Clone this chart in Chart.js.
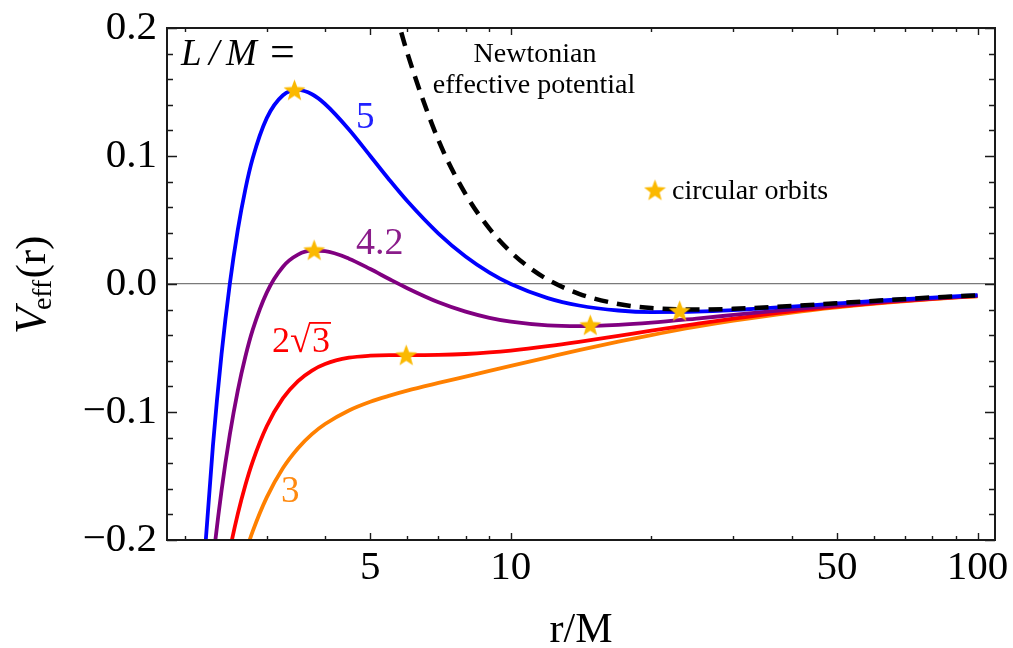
<!DOCTYPE html>
<html>
<head>
<meta charset="utf-8">
<script src="https://cdn.jsdelivr.net/npm/chart.js@4.4.0/dist/chart.umd.min.js"></script>
<style>
  html, body { margin: 0; padding: 0; background: #fff; }
  #wrap { width: 1013px; height: 648px; position: relative; }
</style>
</head>
<body>
<div id="wrap"><canvas id="myChart"></canvas></div>
<script>
// radius grid (r/M) shared by the four relativistic curves
const rValues = [2.0, 2.1, 2.2, 2.3, 2.4, 2.5, 2.6, 2.7, 2.8, 3.0, 3.25, 3.5, 3.75, 4, 4.5, 5, 5.5,
                 6, 7, 8, 9, 10, 12, 14, 17, 20, 25, 30, 40, 50, 65, 80, 100];

// V_eff, one array per L/M
const vL5 = [-0.5, -0.3412, -0.2198, -0.1266, -0.0550, 0.0, 0.0421, 0.0742, 0.0984, 0.1296, 0.1475, 0.1516, 0.1482,
             0.1406, 0.1207, 0.1000, 0.0811, 0.0648, 0.0394, 0.0215, 0.0089, 0.0, -0.0110, -0.0168, -0.0207,
             -0.0219, -0.0216, -0.0204, -0.0176, -0.0152, -0.0125, -0.0106, -0.0088];
const vL42 = [-0.5, -0.3810, -0.2889, -0.2173, -0.1615, -0.1178, -0.0835, -0.0567, -0.0357, -0.0067, 0.0135, 0.0229,
              0.0260, 0.0256, 0.0198, 0.0117, 0.0037, -0.0033, -0.0143, -0.0216, -0.0264, -0.0294, -0.0323,
              -0.0329, -0.0319, -0.0302, -0.0270, -0.0242, -0.0198, -0.0166, -0.0134, -0.0112, -0.0091];
const vL2r3 = [-0.5, -0.4114, -0.3419, -0.2868, -0.2431, -0.2080, -0.1798, -0.1570, -0.1385, -0.1111, -0.0892, -0.0758,
               -0.0676, -0.0625, -0.0576, -0.0560, -0.0556, -0.0556, -0.0554, -0.0547, -0.0535, -0.0520, -0.0486,
               -0.0452, -0.0405, -0.0365, -0.0312, -0.0271, -0.0214, -0.0177, -0.0140, -0.0116, -0.0094];
const vL3 = [-0.5, -0.4276, -0.3700, -0.3238, -0.2865, -0.2560, -0.2310, -0.2103, -0.1931, -0.1667, -0.1438, -0.1283,
             -0.1173, -0.1094, -0.0988, -0.0920, -0.0872, -0.0833, -0.0773, -0.0723, -0.0679, -0.0640, -0.0573,
             -0.0517, -0.0451, -0.0399, -0.0334, -0.0287, -0.0223, -0.0183, -0.0144, -0.0118, -0.0096];

// Newtonian effective potential (dashed)
const rNewton = [5.5, 5.75, 6, 7, 8, 9, 10, 11, 12, 14, 17, 20, 25, 30, 40, 50, 65, 80, 100];
const vNewton = [0.2314, 0.2042, 0.1806, 0.1122, 0.0703, 0.0432, 0.0250, 0.0124, 0.0035, -0.0077, -0.0156,
                 -0.0188, -0.0200, -0.0194, -0.0172, -0.0150, -0.0124, -0.0105, -0.0088];

// circular orbits (stars)
const starR = [3.44, 3.79, 5.97, 14.8, 23.0];
const starV = [0.1516, 0.0266, -0.0555, -0.0320, -0.0209];

// ticks
const xTicks = [2, 3, 4, 5, 6, 7, 8, 9, 10, 20, 30, 40, 50, 60, 70, 80, 90, 100];
const xLabelled = [5, 10, 50, 100];
const yTicks = [-0.2, -0.18, -0.16, -0.14, -0.12, -0.1, -0.08, -0.06, -0.04, -0.02, 0,
                0.02, 0.04, 0.06, 0.08, 0.1, 0.12, 0.14, 0.16, 0.18, 0.2];
const yLabelled = [-0.2, -0.1, 0, 0.1, 0.2];
const yTickLabels = ['\u22120.2', '\u22120.1', '0.0', '0.1', '0.2'];

const SERIF = '"Liberation Serif", "Times New Roman", serif';

function makeStar(size, color) {
    const c = document.createElement('canvas');
    c.width = size;
    c.height = size;
    const g = c.getContext('2d');
    const R = size / 2, r = R * 0.42;
    g.beginPath();
    for (let i = 0; i < 10; i++) {
        const a = -Math.PI / 2 + i * Math.PI / 5;
        const rad = i % 2 === 0 ? R : r;
        g.lineTo(R + rad * Math.cos(a), R + 1 + rad * Math.sin(a));
    }
    g.closePath();
    g.fillStyle = color;
    g.fill();
    return c;
}
const starImg = makeStar(23, '#fbb900');

function pts(xs, ys) {
    return xs.map(function(v, i) { return {x: v, y: ys[i]}; });
}

function curve(label, xs, ys, color, order, dash) {
    return {
        label: label,
        data: pts(xs, ys),
        borderColor: color,
        borderWidth: dash ? 4.5 : 3.8,
        borderDash: dash || [],
        pointRadius: 0,
        cubicInterpolationMode: 'monotone',
        clip: 0,
        order: order
    };
}

const isMajorY = v => yLabelled.some(m => Math.abs(m - v) < 1e-9);

const decorations = {
    id: 'decorations',
    afterDatasetsDraw(chart) {
        const {ctx, chartArea: a, scales: {x, y}} = chart;
        ctx.save();
        ctx.strokeStyle = '#1a1a1a';
        ctx.lineWidth = 1.4;
        ctx.beginPath();
        xTicks.forEach(function(v) {
            const px = Math.round(x.getPixelForValue(v)) + 0.5;
            const len = xLabelled.includes(v) ? 7 : 4;
            ctx.moveTo(px, a.bottom); ctx.lineTo(px, a.bottom - len);
            ctx.moveTo(px, a.top); ctx.lineTo(px, a.top + len);
        });
        yTicks.forEach(function(v) {
            const py = Math.round(y.getPixelForValue(v)) + 0.5;
            const len = isMajorY(v) ? 10 : 6;
            ctx.moveTo(a.left, py); ctx.lineTo(a.left + len, py);
            ctx.moveTo(a.right, py); ctx.lineTo(a.right - len, py);
        });
        ctx.stroke();
        ctx.lineWidth = 2;
        ctx.strokeRect(a.left, a.top, a.right - a.left, a.bottom - a.top);
        ctx.restore();
    },
    afterDraw(chart) {
        const ctx = chart.ctx;
        ctx.save();
        ctx.textBaseline = 'alphabetic';
        ctx.textAlign = 'left';

        // axis titles
        ctx.fillStyle = '#000';
        ctx.font = '42px ' + SERIF;
        ctx.textAlign = 'center';
        ctx.fillText('r/M', 581, 642);

        ctx.save();
        ctx.translate(45, 334);
        ctx.rotate(-Math.PI / 2);
        ctx.textAlign = 'left';
        ctx.font = 'italic 44px ' + SERIF;
        ctx.fillText('V', 0, 0);
        let w = ctx.measureText('V').width - 3;
        ctx.font = '28px ' + SERIF;
        ctx.fillText('eff', w, 6);
        w += ctx.measureText('eff').width + 1;
        ctx.font = '43px ' + SERIF;
        ctx.fillText('(r)', w, 0);
        ctx.restore();

        // L/M =
        ctx.textAlign = 'left';
        ctx.font = 'italic 37px ' + SERIF;
        ctx.fillText('L', 181, 65);
        ctx.fillText('/', 209, 65);
        ctx.fillText('M', 226, 65);
        ctx.font = '44px ' + SERIF;
        ctx.fillText('=', 270, 66);

        // curve labels
        ctx.font = '37px ' + SERIF;
        ctx.fillStyle = '#2020ff';
        ctx.fillText('5', 356, 128);
        ctx.fillStyle = '#8a1c8a';
        ctx.font = '38px ' + SERIF;
        ctx.fillText('4.2', 356, 254);

        ctx.fillStyle = '#ff0000';
        ctx.font = '36px ' + SERIF;
        ctx.fillText('2', 272, 352);
        ctx.font = '38px ' + SERIF;
        const rad = ctx.measureText('\u221A');
        ctx.fillText('\u221A', 290, 352);
        const radTop = 352 - rad.actualBoundingBoxAscent;
        const radRight = 290 + rad.actualBoundingBoxRight;
        ctx.font = '36px ' + SERIF;
        ctx.fillText('3', radRight + 1, 352);
        const threeW = ctx.measureText('3').width;
        ctx.strokeStyle = '#ff0000';
        ctx.lineWidth = 1.8;
        ctx.beginPath();
        ctx.moveTo(radRight - 1, radTop + 0.9);
        ctx.lineTo(radRight + threeW + 2, radTop + 0.9);
        ctx.stroke();

        ctx.fillStyle = '#ff8a10';
        ctx.font = '37px ' + SERIF;
        ctx.fillText('3', 281, 502);

        // Newtonian note
        ctx.fillStyle = '#000';
        ctx.font = '28px ' + SERIF;
        ctx.textAlign = 'center';
        ctx.fillText('Newtonian', 535, 62);
        ctx.fillText('effective potential', 534, 93);

        // star legend
        ctx.drawImage(starImg, 655 - 11.5, 191 - 12.5);
        ctx.textAlign = 'left';
        ctx.fillText('circular orbits', 672, 199);
        ctx.restore();
    }
};

const ctx = document.getElementById('myChart');

new Chart(ctx, {
    type: 'line',
    data: {
        datasets: [
            {
                label: 'circular orbits',
                data: pts(starR, starV),
                showLine: false,
                pointStyle: starImg,
                pointRadius: 11,
                order: 0
            },
            curve('Newtonian', rNewton, vNewton, '#000000', 1, [14, 9]),
            curve('L/M = 5', rValues, vL5, '#0000ff', 2),
            curve('L/M = 4.2', rValues, vL42, '#800080', 3),
            curve('L/M = 2\u221A3', rValues, vL2r3, '#ff0000', 4),
            curve('L/M = 3', rValues, vL3, '#ff8000', 5)
        ]
    },
    options: {
        responsive: true,
        maintainAspectRatio: false,
        animation: false,
        layout: {padding: {top: 28, right: 18, left: 0, bottom: 0}},
        scales: {
            x: {
                type: 'logarithmic',
                min: 1.834,
                max: 109,
                afterBuildTicks: s => { s.ticks = xTicks.map(v => ({value: v})); },
                afterFit: s => { s.height = 108; s.paddingLeft = 0; s.paddingRight = 0; },
                grid: {display: false, drawTicks: false},
                border: {display: false},
                ticks: {
                    autoSkip: false,
                    maxRotation: 0,
                    padding: 4,
                    color: '#000',
                    font: {family: SERIF, size: 41},
                    callback: v => xLabelled.includes(v) ? String(v) : ''
                }
            },
            y: {
                min: -0.2,
                max: 0.2,
                afterBuildTicks: s => { s.ticks = yTicks.map(v => ({value: v})); },
                afterFit: s => { s.width = 167; s.paddingTop = 0; s.paddingBottom = 0; },
                grid: {
                    drawTicks: false,
                    lineWidth: 1.3,
                    color: c => Math.abs(c.tick.value) < 1e-9 ? '#7a7a7a' : 'rgba(0,0,0,0)'
                },
                border: {display: false},
                ticks: {
                    autoSkip: false,
                    padding: 10,
                    color: '#000',
                    font: {family: SERIF, size: 41},
                    callback: function(v) {
                        const i = yLabelled.findIndex(m => Math.abs(m - v) < 1e-9);
                        return i >= 0 ? yTickLabels[i] : '';
                    }
                }
            }
        },
        plugins: {
            legend: {display: false},
            tooltip: {enabled: false}
        }
    },
    plugins: [decorations]
});
</script>
</body>
</html>
